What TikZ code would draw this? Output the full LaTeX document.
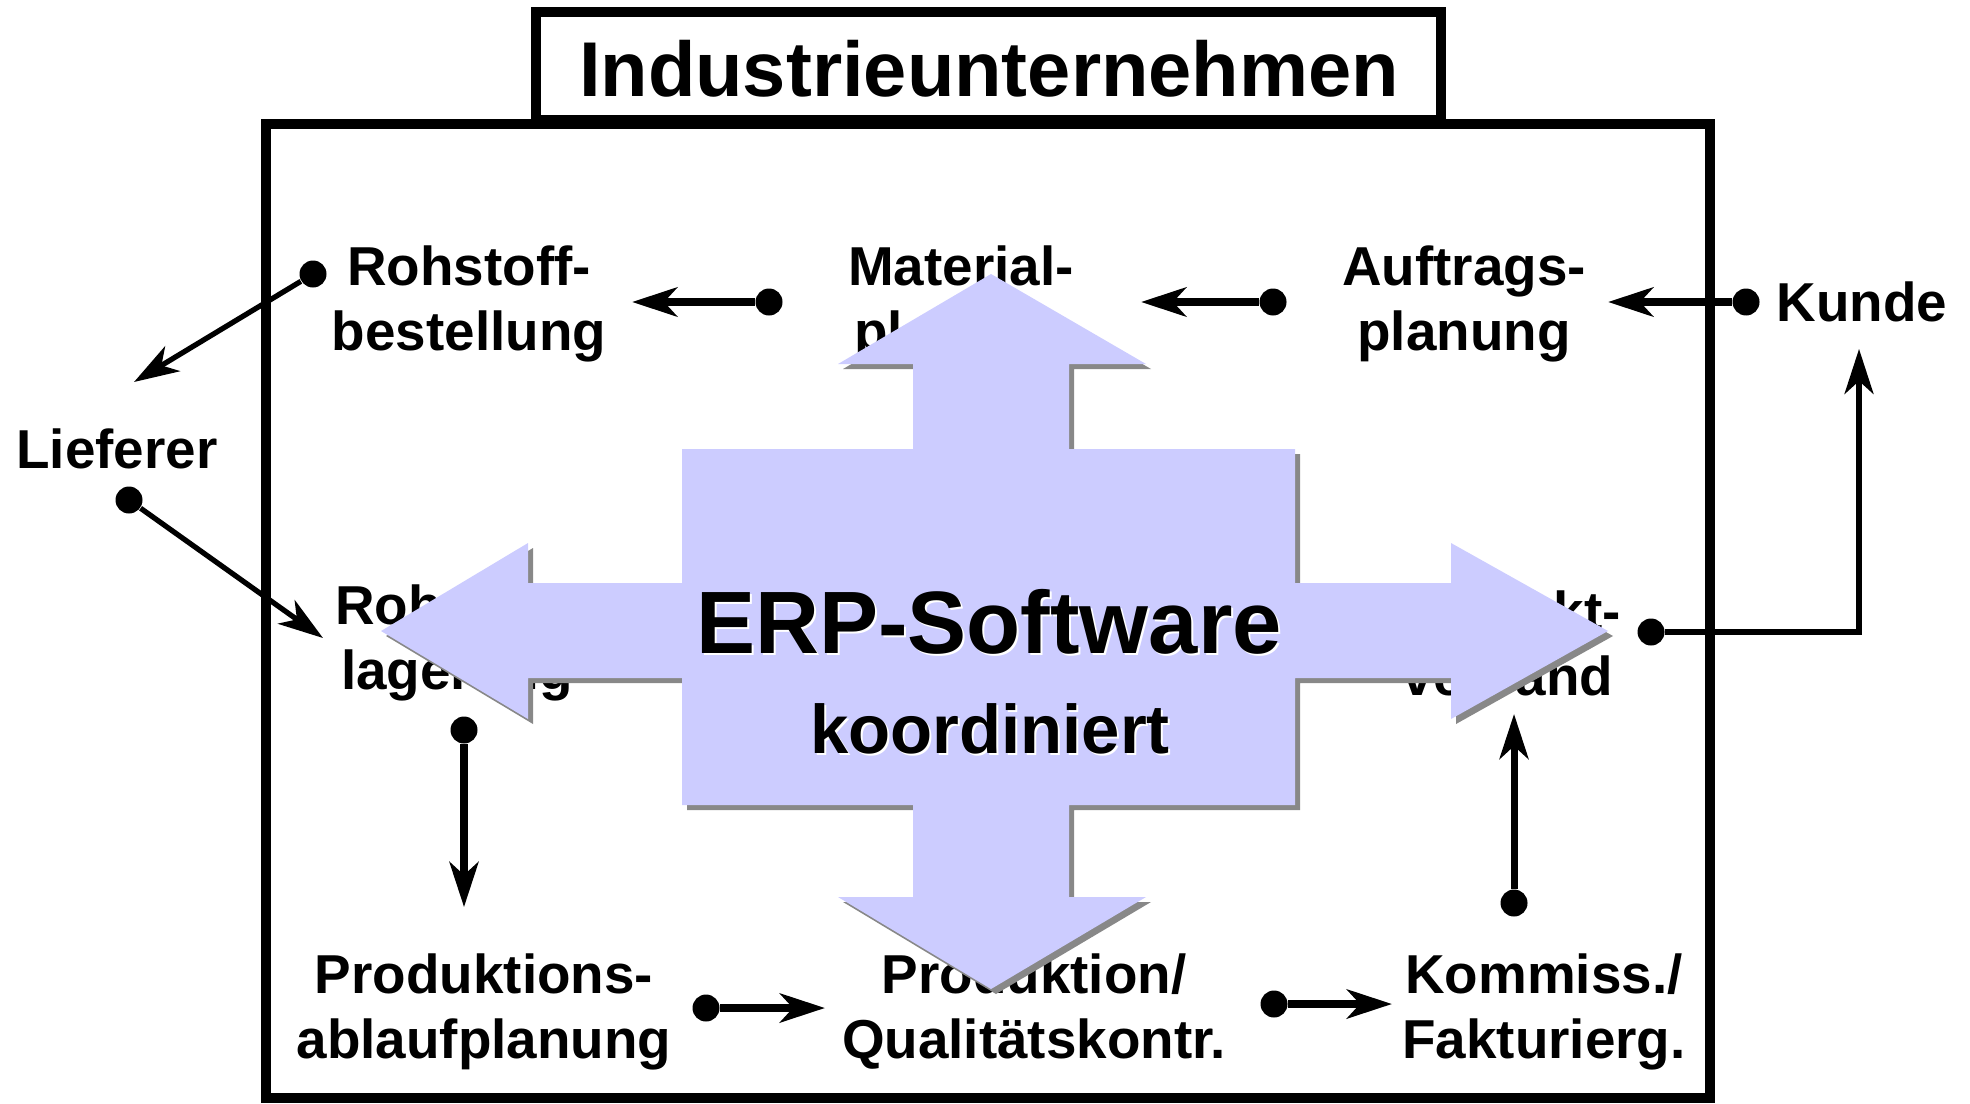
\documentclass[tikz,border=0pt]{standalone}
\usepackage{fontspec}
\setmainfont{Liberation Sans}
\definecolor{crossblue}{RGB}{204, 204, 255}
\definecolor{crossshade}{RGB}{136, 136, 136}
\usetikzlibrary{arrows.meta}
\tikzset{
  labeltext/.style={align=center, inner sep=0pt, font=\fontsize{15.6}{18.5}\selectfont\bfseries},
  dotnode/.style={circle, fill=black, inner sep=0pt, minimum size=0.27cm},
  flowarrow/.style={draw, line width=#1, -{Stealth[length=0.45cm, width=0.29cm, inset=0.13cm]}},
  flowarrow/.default=2pt,
  framebox/.style={draw, line width=3pt},
}
\newcommand{\erpcrosspath}{
  (9.91,-2.74) -- (11.46,-3.64) -- (10.69,-3.64) -- (10.69,-4.49) -- (12.95,-4.49)
  -- (12.95,-5.83) -- (14.51,-5.83) -- (14.51,-5.43) -- (16.08,-6.31) -- (14.51,-7.19)
  -- (14.51,-6.78) -- (12.95,-6.78) -- (12.95,-8.05) -- (10.69,-8.05) -- (10.69,-8.97)
  -- (11.46,-8.97) -- (9.91,-9.89) -- (8.38,-8.97) -- (9.13,-8.97) -- (9.13,-8.05)
  -- (6.82,-8.05) -- (6.82,-6.78) -- (5.28,-6.78) -- (5.28,-7.19) -- (3.81,-6.31)
  -- (5.28,-5.43) -- (5.28,-5.83) -- (6.82,-5.83) -- (6.82,-4.49) -- (9.13,-4.49)
  -- (9.13,-3.64) -- (8.38,-3.64) -- cycle}

\begin{document}
\begin{tikzpicture}
\useasboundingbox (0,0) rectangle (19.70,-11.03);

% frame and title
\draw[framebox] (2.66,-1.24) rectangle (17.10,-10.98);
\draw[framebox, fill=white, line width=2.6pt] (5.36,-0.12) rectangle (14.41,-1.20);
\node[inner sep=0pt, font=\fontsize{22.1}{26}\selectfont\bfseries] (title) at (9.89,-0.69) {Industrieunternehmen};

% process steps
\node[labeltext] (bestellung) at (4.69,-3.04) {Rohstoff-\\bestellung};
\node[labeltext] (material) at (9.61,-3.04) {Material-\\planung};
\node[labeltext] (auftrag) at (14.64,-3.04) {Auftrags-\\planung};
\node[labeltext] (kunde) at (18.62,-3.02) {Kunde};
\node[labeltext] (lieferer) at (1.17,-4.49) {Lieferer};
\node[labeltext] (lagerung) at (4.57,-6.43) {Rohstoff-\\lagerung};
\node[labeltext] (versand) at (15.08,-6.43) {Produkt-\\versand};
\node[labeltext] (ablauf) at (4.84,-10.12) {Produktions-\\ablaufplanung};
\node[labeltext] (produktion) at (10.34,-10.12) {Produktion/\\Qualitätskontr.};
\node[labeltext] (kommiss) at (15.44,-10.12) {Kommiss./\\Fakturierg.};

% dots and arrow ends
\node[dotnode] (dMat) at (7.69,-3.02) {};
\node[dotnode] (dAuf) at (12.73,-3.02) {};
\node[dotnode] (dKun) at (17.46,-3.02) {};
\node[dotnode] (dBest) at (3.13,-2.74) {};
\node[dotnode] (dLief) at (1.29,-5.00) {};
\node[dotnode] (dLag) at (4.64,-7.30) {};
\node[dotnode] (dKomm) at (15.14,-9.03) {};
\node[dotnode] (dVers) at (16.51,-6.32) {};
\node[dotnode] (dAbl) at (7.06,-10.08) {};
\node[dotnode] (dProd) at (12.74,-10.04) {};
\coordinate (tBest) at (6.32,-3.02);
\coordinate (tMat) at (11.41,-3.02);
\coordinate (tAuf) at (16.08,-3.02);
\coordinate (tLief) at (1.34,-3.82);
\coordinate (tLag) at (3.23,-6.38);
\coordinate (tAbl) at (4.64,-9.07);
\coordinate (tVers) at (15.14,-7.14);
\coordinate (tKun) at (18.59,-3.49);
\coordinate (tProd) at (8.25,-10.08);
\coordinate (tKomm) at (13.92,-10.04);

\draw[flowarrow=2.3pt] (dMat) -- (tBest);
\draw[flowarrow=2.3pt] (dAuf) -- (tMat);
\draw[flowarrow=2.3pt] (dKun) -- (tAuf);
\draw[flowarrow=1.5pt] (dBest) -- (tLief);
\draw[flowarrow=1.5pt] (dLief) -- (tLag);
\draw[flowarrow] (dLag) -- (tAbl);
\draw[flowarrow] (dKomm) -- (tVers);
\draw[flowarrow=1.5pt] (dVers) -| (tKun);
\draw[flowarrow=2.2pt] (dAbl) -- (tProd);
\draw[flowarrow=2.2pt] (dProd) -- (tKomm);

% ERP cross
\fill[crossshade, xshift=0.05cm, yshift=-0.05cm] \erpcrosspath;
\fill[crossblue] \erpcrosspath;
\node[white, inner sep=0pt, font=\fontsize{25.2}{30}\selectfont\bfseries] at (9.91,-6.24) {ERP-Software};
\node[inner sep=0pt, font=\fontsize{25.2}{30}\selectfont\bfseries] (erp) at (9.89,-6.22) {ERP-Software};
\node[white, inner sep=0pt, font=\fontsize{19.6}{24}\selectfont\bfseries] at (9.92,-7.31) {koordiniert};
\node[inner sep=0pt, font=\fontsize{19.6}{24}\selectfont\bfseries] (koord) at (9.90,-7.29) {koordiniert};
\end{tikzpicture}
\end{document}
